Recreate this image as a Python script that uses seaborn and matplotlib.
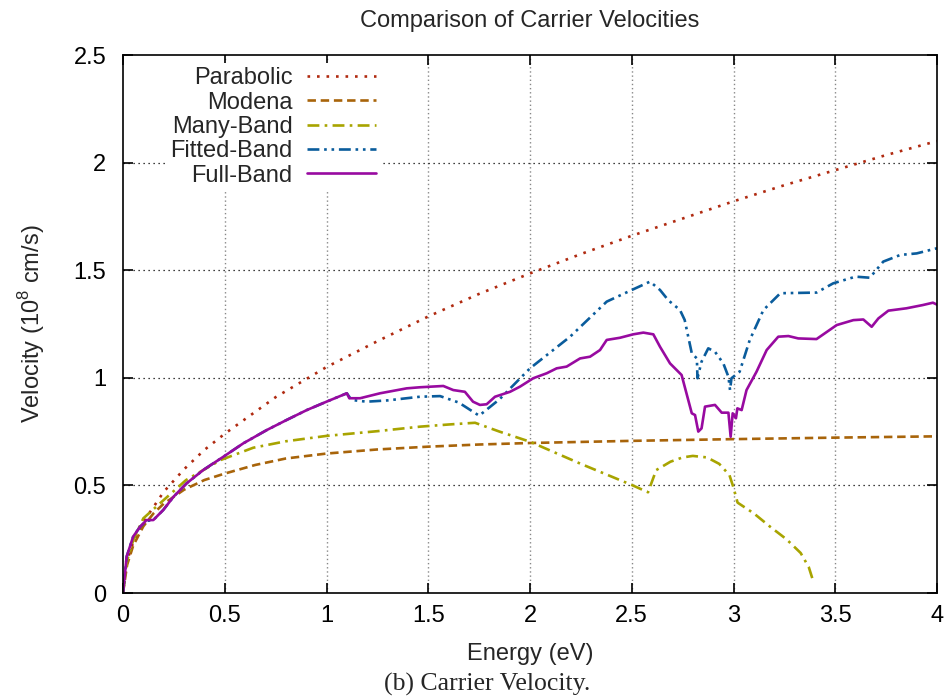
import matplotlib
matplotlib.use("Agg")
import matplotlib.pyplot as plt
import seaborn as sns
import pandas as pd

# ---------------- data ----------------
para_E = [0, 0.02, 0.05, 0.1, 0.2, 0.3, 0.4, 0.5, 0.75, 1.0, 1.25, 1.5, 1.75, 2.0,
          2.25, 2.5, 2.75, 3.0, 3.25, 3.5, 3.75, 4.0]
para_v = [0, 0.15, 0.235, 0.33, 0.47, 0.575, 0.665, 0.74, 0.91, 1.05, 1.17, 1.285, 1.39,
          1.485, 1.575, 1.66, 1.74, 1.82, 1.895, 1.965, 2.035, 2.1]

mod_E = [0, 0.02, 0.05, 0.1, 0.15, 0.2, 0.3, 0.4, 0.5, 0.65, 0.8, 1.0, 1.25, 1.5, 1.75,
         2.0, 2.5, 3.0, 3.5, 4.0]
mod_v = [0, 0.13, 0.22, 0.31, 0.37, 0.415, 0.48, 0.525, 0.555, 0.595, 0.625, 0.648, 0.667,
         0.68, 0.69, 0.697, 0.707, 0.715, 0.722, 0.728]

many_E = [0, 0.02, 0.05, 0.1, 0.2, 0.31, 0.48, 0.64, 0.8, 1.0, 1.25, 1.46, 1.6, 1.73, 1.85,
          2.0, 2.25, 2.5, 2.58, 2.62, 2.69, 2.75, 2.8, 2.87, 2.93, 2.98, 3.0, 3.02, 3.1,
          3.18, 3.26, 3.33, 3.37, 3.39]
many_v = [0, 0.15, 0.245, 0.347, 0.432, 0.525, 0.618, 0.675, 0.705, 0.73, 0.752, 0.773, 0.783,
          0.791, 0.75, 0.703, 0.60, 0.502, 0.468, 0.571, 0.61, 0.63, 0.637, 0.63, 0.60, 0.548,
          0.49, 0.42, 0.37, 0.308, 0.25, 0.186, 0.12, 0.06]

fit_E = [0, 0.018, 0.05, 0.084, 0.116, 0.149, 0.198, 0.248, 0.313, 0.395, 0.493, 0.592,
         0.706, 0.804, 0.903, 1.0, 1.1, 1.123, 1.197, 1.3, 1.459, 1.558, 1.65, 1.75, 1.85,
         2.0, 2.197, 2.377, 2.5, 2.59, 2.639, 2.68, 2.737, 2.76, 2.795, 2.82, 2.823, 2.843,
         2.876, 2.909, 2.95, 2.975, 2.983, 2.99, 3.03, 3.08, 3.147, 3.23, 3.408, 3.49, 3.6,
         3.67, 3.736, 3.82, 3.9, 4.0]
fit_v = [0, 0.169, 0.262, 0.308, 0.335, 0.339, 0.386, 0.447, 0.51, 0.572, 0.633, 0.696,
         0.757, 0.804, 0.85, 0.889, 0.928, 0.897, 0.889, 0.895, 0.912, 0.915, 0.885, 0.824,
         0.9, 1.044, 1.191, 1.354, 1.408, 1.447, 1.408, 1.36, 1.315, 1.269, 1.114, 1.09,
         0.998, 1.075, 1.137, 1.121, 1.067, 1.005, 0.943, 0.998, 1.028, 1.176, 1.315, 1.393,
         1.396, 1.439, 1.47, 1.465, 1.54, 1.571, 1.578, 1.602]

full_E = [0, 0.018, 0.05, 0.084, 0.116, 0.149, 0.198, 0.248, 0.313, 0.395, 0.493, 0.592,
          0.706, 0.804, 0.903, 1.0, 1.1, 1.112, 1.165, 1.263, 1.394, 1.459, 1.574, 1.623,
          1.68, 1.72, 1.754, 1.787, 1.828, 1.902, 1.951, 2.016, 2.082, 2.131, 2.18, 2.246,
          2.295, 2.344, 2.377, 2.442, 2.507, 2.557, 2.606, 2.639, 2.688, 2.745, 2.795, 2.811,
          2.827, 2.843, 2.86, 2.909, 2.942, 2.975, 2.986, 2.996, 3.012, 3.019, 3.04, 3.064,
          3.113, 3.163, 3.22, 3.27, 3.318, 3.408, 3.507, 3.589, 3.638, 3.679, 3.712, 3.761,
          3.85, 3.93, 3.98, 4.0]
full_v = [0, 0.169, 0.262, 0.308, 0.339, 0.339, 0.386, 0.447, 0.51, 0.572, 0.633, 0.696,
          0.757, 0.804, 0.85, 0.889, 0.928, 0.905, 0.905, 0.928, 0.951, 0.956, 0.962, 0.943,
          0.935, 0.889, 0.874, 0.877, 0.912, 0.935, 0.959, 0.998, 1.021, 1.044, 1.052, 1.09,
          1.098, 1.129, 1.176, 1.186, 1.202, 1.21, 1.202, 1.144, 1.067, 1.013, 0.835, 0.827,
          0.75, 0.765, 0.866, 0.874, 0.838, 0.838, 0.726, 0.835, 0.812, 0.858, 0.85, 0.943,
          1.028, 1.129, 1.191, 1.194, 1.183, 1.18, 1.245, 1.268, 1.271, 1.237, 1.276, 1.312,
          1.323, 1.338, 1.349, 1.34]

series_names = ["Parabolic", "Modena", "Many-Band", "Fitted-Band", "Full-Band"]
x_ticks = [0, 0.5, 1, 1.5, 2, 2.5, 3, 3.5, 4]
x_tick_labels = ["0", "0.5", "1", "1.5", "2", "2.5", "3", "3.5", "4"]
y_ticks = [0, 0.5, 1, 1.5, 2, 2.5]
y_tick_labels = ["0", "0.5", "1", "1.5", "2", "2.5"]

# ---------------- styling ----------------
sns.set_theme(style="white")
plt.rcParams["font.family"] = ["Liberation Sans", "DejaVu Sans"]
plt.rcParams["mathtext.fontset"] = "custom"
plt.rcParams["mathtext.rm"] = "Liberation Sans"

FS = 17
colors = ["#b02a10", "#a8640a", "#a8a400", "#0a5c9c", "#980aa0"]
styles = [(0, (1.0, 2.6)), (0, (3.2, 1.8)), (0, (4.5, 2.0, 1.0, 2.0)),
          (0, (4.5, 1.8, 1.0, 1.8, 1.0, 1.8)), "-"]
lws = [1.9, 1.9, 1.9, 1.9, 1.9]

fig = plt.figure(figsize=(9.51, 7.0), dpi=100)
ax = fig.add_axes([123 / 951, 1 - 593 / 700, (937 - 123) / 951, (593 - 55) / 700])

data = [(para_E, para_v), (mod_E, mod_v), (many_E, many_v), (fit_E, fit_v), (full_E, full_v)]
for (E, v), name, c, ls, lw in zip(data, series_names, colors, styles, lws):
    df = pd.DataFrame({"Energy": E, "Velocity": v})
    sns.lineplot(data=df, x="Energy", y="Velocity", ax=ax, color=c, linestyle=ls,
                 linewidth=lw, label=name, estimator=None, sort=False)

ax.set_xlim(0, 4)
ax.set_ylim(0, 2.5)
ax.set_xticks(x_ticks)
ax.set_xticklabels(x_tick_labels)
ax.set_yticks(y_ticks)
ax.set_yticklabels(y_tick_labels)

ax.grid(False)
for xv in x_ticks[1:-1]:
    ax.axvline(xv, color="#888888", linestyle=(0, (1, 2)), linewidth=1.0, zorder=0.5)
for yv in y_ticks[1:-1]:
    ax.axhline(yv, color="black", linestyle=(0, (1, 3)), linewidth=0.9, zorder=0.5)

for s in ax.spines.values():
    s.set_color("black")
    s.set_linewidth(1.2)
    s.set_visible(True)
ax.tick_params(direction="in", length=7, width=1.2, top=True, right=True,
               bottom=True, left=True, labelsize=FS, colors="black")
ax.tick_params(axis="x", pad=9)
ax.tick_params(axis="y", pad=12)

ax.set_xlabel("Energy (eV)", fontsize=FS, labelpad=11.5)
ax.set_ylabel("Velocity (10$^8$ cm/s)", fontsize=FS, labelpad=19)
ax.set_title("Comparison of Carrier Velocities", fontsize=FS, pad=20.5)

leg = ax.legend(loc="upper right", bbox_to_anchor=(0.316, 0.986), markerfirst=False,
                frameon=True, fontsize=FS, handlelength=2.9, handletextpad=0.62,
                labelspacing=0.1, borderpad=0.2, borderaxespad=0)
leg.get_frame().set_facecolor("white")
leg.get_frame().set_edgecolor("none")
leg.get_frame().set_alpha(1.0)
leg.get_frame().set_boxstyle("square", pad=0)

fig.text(487 / 951, 1 - 684 / 700, "(b) Carrier Velocity.", ha="center", va="center",
         fontsize=18.5, family=["Liberation Serif", "DejaVu Serif"])

fig.savefig("out.png", dpi=100)
